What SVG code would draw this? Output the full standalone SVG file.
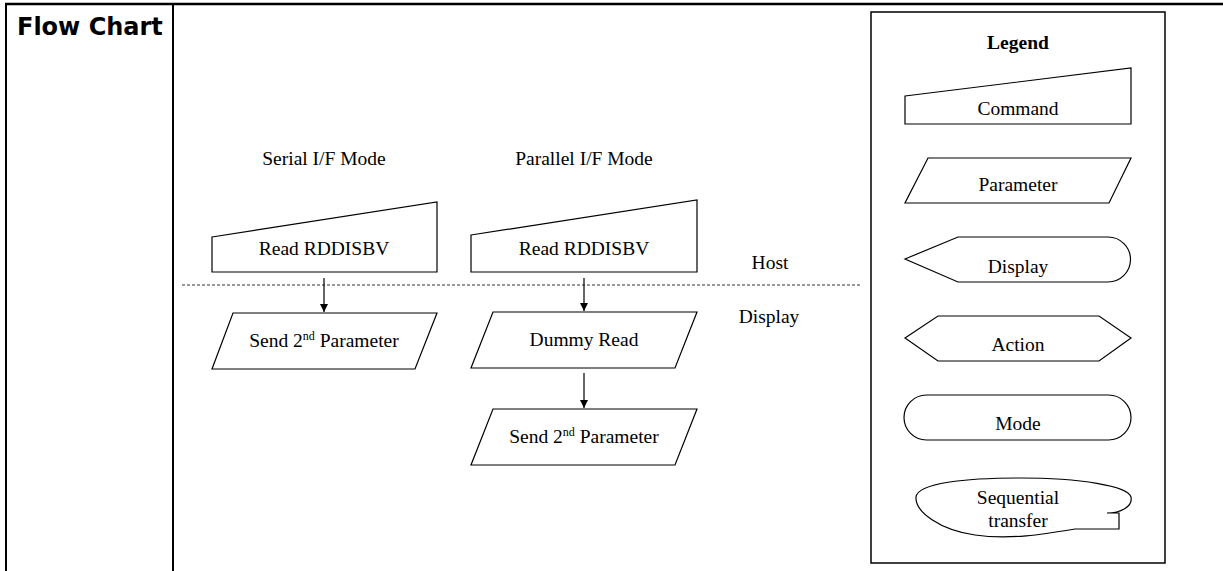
<svg xmlns="http://www.w3.org/2000/svg" width="1223" height="571" viewBox="0 0 1223 571">
<style>
.t{font-family:"Liberation Serif","Times New Roman",serif;font-size:19.5px;fill:#000;text-anchor:middle}
.b{font-weight:bold}
.s{fill:#fff;stroke:#000;stroke-width:1.2}
.c{stroke:#000;stroke-width:1.2;fill:none}
.sup{font-size:12px}
</style>
<defs>
<marker id="ah" viewBox="0 0 10 10" refX="10" refY="5" markerWidth="8" markerHeight="8" markerUnits="userSpaceOnUse" orient="auto">
<path d="M0,0 L10,5 L0,10 Z" fill="#000"/>
</marker>
</defs>
<rect width="1223" height="571" fill="#fff"/>
<g id="table">
<line x1="5" y1="4" x2="1223" y2="4" stroke="#000" stroke-width="2.5"/>
<line x1="6" y1="3" x2="6" y2="571" stroke="#000" stroke-width="2"/>
<line x1="173" y1="3" x2="173" y2="571" stroke="#000" stroke-width="2"/>
<text x="17" y="35" font-family="'DejaVu Sans',Verdana,sans-serif" font-weight="bold" font-size="24">Flow Chart</text>
</g>
<g id="labels">
<text class="t" x="324" y="165">Serial I/F Mode</text>
<text class="t" x="584" y="165">Parallel I/F Mode</text>
<text class="t" x="770" y="269">Host</text>
<text class="t" x="769" y="323">Display</text>
</g>
<g id="connectors">
<line x1="182" y1="285" x2="861" y2="285" stroke="#333" stroke-width="1" stroke-dasharray="3,2"/>
<line class="c" x1="324" y1="278" x2="324" y2="312" marker-end="url(#ah)"/>
<line class="c" x1="584" y1="278" x2="584" y2="311" marker-end="url(#ah)"/>
<line class="c" x1="584" y1="373" x2="584" y2="408" marker-end="url(#ah)"/>
</g>
<g id="serial-cmd">
<path class="s" d="M212 237 L437 202 V272 H212 Z"/>
<text class="t" x="324" y="255">Read RDDISBV</text>
</g>
<g id="parallel-cmd">
<path class="s" d="M471 235 L697 200 V272 H471 Z"/>
<text class="t" x="584" y="255">Read RDDISBV</text>
</g>
<g id="serial-param">
<path class="s" d="M233 313 H437 L415 369 H212 Z"/>
<text class="t" x="324" y="347">Send 2<tspan class="sup" dy="-7">nd</tspan><tspan dy="7"> Parameter</tspan></text>
</g>
<g id="dummy-read">
<path class="s" d="M493 312 H697 L675 368 H471 Z"/>
<text class="t" x="584" y="346">Dummy Read</text>
</g>
<g id="parallel-param">
<path class="s" d="M493 409 H697 L675 465 H471 Z"/>
<text class="t" x="584" y="443">Send 2<tspan class="sup" dy="-7">nd</tspan><tspan dy="7"> Parameter</tspan></text>
</g>
<g id="legend">
<rect x="871" y="12" width="294" height="551" fill="none" stroke="#000" stroke-width="1.5"/>
<text class="t b" x="1018" y="49">Legend</text>
</g>
<g id="legend-command">
<path class="s" d="M905 96 L1131 68 V124 H905 Z"/>
<text class="t" x="1018" y="115">Command</text>
</g>
<g id="legend-parameter">
<path class="s" d="M928 158 H1131 L1109 203 H905 Z"/>
<text class="t" x="1018" y="191">Parameter</text>
</g>
<g id="legend-display">
<path class="s" d="M905 259 L958 237 H1108 A22.5 22.5 0 0 1 1108 282 H958 Z"/>
<text class="t" x="1018" y="273">Display</text>
</g>
<g id="legend-action">
<path class="s" d="M905 338 L938 316 H1099 L1131 338 L1099 361 H938 Z"/>
<text class="t" x="1018" y="351">Action</text>
</g>
<g id="legend-mode">
<rect class="s" x="904" y="395" width="227" height="45" rx="22.5" ry="22.5"/>
<text class="t" x="1018" y="430">Mode</text>
</g>
<g id="legend-sequential">
<path class="s" d="M1107 513 H1119 V529 H1075 C1045 534 1010 540 975 535 C940 530 915 512 916 497 C918 483 965 478 1020 478 C1080 478 1128 486 1131 497 C1133 507 1120 513 1107 513 Z"/>
<text class="t" x="1018" y="504">Sequential</text>
<text class="t" x="1018" y="527">transfer</text>
</g>
</svg>
